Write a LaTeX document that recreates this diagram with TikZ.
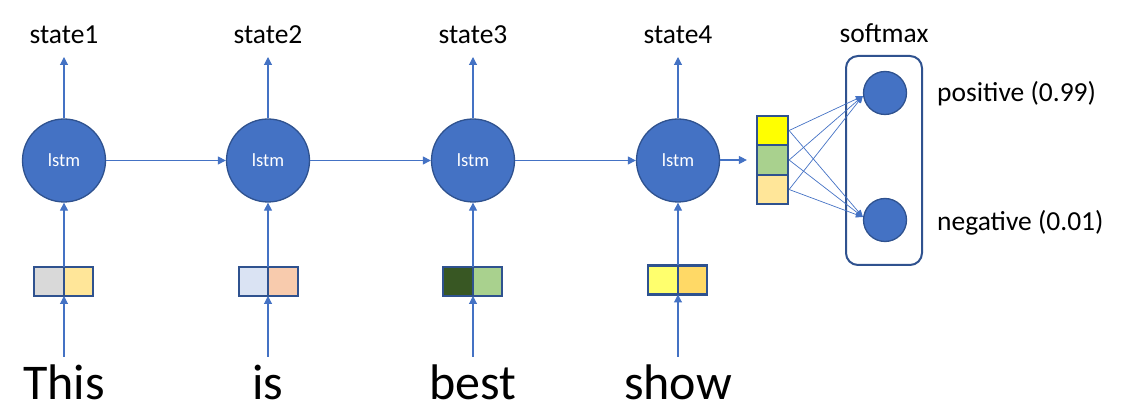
\documentclass[tikz,border=0pt]{standalone}
\usepackage{fontspec}
\setmainfont{Carlito}
\usetikzlibrary{arrows.meta}
\definecolor{ob}{HTML}{4472C4}
\definecolor{od}{HTML}{2F528F}
\definecolor{cgray}{HTML}{D9D9D9}
\definecolor{clyel}{HTML}{FFE699}
\definecolor{clblue}{HTML}{DAE3F3}
\definecolor{cpeach}{HTML}{F8CBAD}
\definecolor{cdgreen}{HTML}{385723}
\definecolor{clgreen}{HTML}{A9D18E}
\definecolor{cpyel}{HTML}{FFFF6D}
\definecolor{cgold}{HTML}{FFD966}
\definecolor{cyel}{HTML}{FFFF00}
\begin{document}
\begin{tikzpicture}[x=1pt,y=-1pt,
  lstmnode/.style={circle, minimum size=83pt, inner sep=0pt, fill=ob, draw=od, line width=1.3pt, text=white, font=\fontsize{18.5}{20}\selectfont},
  outnode/.style={circle, minimum size=43pt, inner sep=0pt, fill=ob, draw=od, line width=1.3pt},
  cell/.style={rectangle, minimum width=29.5pt, minimum height=29pt, inner sep=0pt, draw=od, line width=2.2pt},
  vcell/.style={rectangle, minimum width=31pt, minimum height=29.5pt, inner sep=0pt, draw=od, line width=2.2pt},
  lab/.style={font=\fontsize{27.5}{31}\selectfont, inner sep=0pt},
  word/.style={font=\fontsize{50}{56}\selectfont, inner sep=0pt, anchor=base},
  arr/.style={draw=ob, line width=1.1pt, -{Triangle[length=8pt,width=8pt]}},
  thin/.style={draw=ob, line width=0.7pt, -{Triangle[length=7pt,width=6pt]}}
]
\useasboundingbox (0,0) rectangle (1125,419);

% lstm cells
\node[lstmnode] (c1) at (64,160.5) {lstm};
\node[lstmnode] (c2) at (268,160.5) {lstm};
\node[lstmnode] (c3) at (473,160.5) {lstm};
\node[lstmnode] (c4) at (678,160.5) {lstm};

% state labels
\foreach \i/\x in {1/64,2/268,3/473,4/678}{
  \node[lab, anchor=base] (s\i) at (\x,44) {state\i};
  \coordinate (t\i) at (\x,57);
}

% input vectors
\node[cell, fill=cgray] (a1) at (49,281.5) {};
\node[cell, fill=clyel] (b1) at (78.5,281.5) {};
\node[cell, fill=clblue] (a2) at (253.5,281.5) {};
\node[cell, fill=cpeach] (b2) at (283,281.5) {};
\node[cell, fill=cdgreen] (a3) at (458,281.5) {};
\node[cell, fill=clgreen] (b3) at (487.5,281.5) {};
\node[cell, fill=cpyel] (a4) at (663,280) {};
\node[cell, fill=cgold] (b4) at (692.5,280) {};
\coordinate (v1top) at (64,267); \coordinate (v1bot) at (64,296);
\coordinate (v2top) at (268,267); \coordinate (v2bot) at (268,296);
\coordinate (v3top) at (473,267); \coordinate (v3bot) at (473,296);
\coordinate (v4top) at (678,265.5); \coordinate (v4bot) at (678,294.5);

% words
\node[word] (w1) at (64,400) {This};
\node[word] (w2) at (268,400) {is};
\node[word] (w3) at (473,400) {best};
\node[word] (w4) at (678,400) {show};
\foreach \i/\x in {1/64,2/268,3/473,4/678}{
  \coordinate (ws\i) at (\x,357);
}

% arrows
\foreach \i in {1,2,3,4}{
  \draw[arr] (c\i.north) -- (t\i);
  \draw[arr] (v\i top) -- (c\i.south);
  \draw[arr] (ws\i) -- (v\i bot);
}
\draw[arr] (c1) -- (c2);
\draw[arr] (c2) -- (c3);
\draw[arr] (c3) -- (c4);

% final vector
\node[vcell, fill=cyel] (f1) at (772.5,130.5) {};
\node[vcell, fill=clgreen] (f2) at (772.5,160) {};
\node[vcell, fill=clyel] (f3) at (772.5,189.5) {};
\draw[arr, shorten >=9pt] (c4.east |- f2.west) -- (f2.west);

% softmax
\node[rectangle, draw=od, line width=2pt, rounded corners=12pt, minimum width=76pt, minimum height=209pt, inner sep=0pt] (sm) at (884,160.5) {};
\node[lab, anchor=base] (smlab) at (884,43) {softmax};
\node[outnode] (p) at (885,93) {};
\node[outnode] (n) at (885,220) {};
\node[lab, anchor=base west] (pl) at (937,102) {positive (0.99)};
\node[lab, anchor=base west] (nl) at (937,231) {negative (0.01)};

\foreach \f in {f1,f2,f3}{
  \draw[thin] (\f.east) -- ([yshift=-3pt]p.west);
  \draw[thin] (\f.east) -- ([yshift=3pt]n.west);
}
\end{tikzpicture}
\end{document}
